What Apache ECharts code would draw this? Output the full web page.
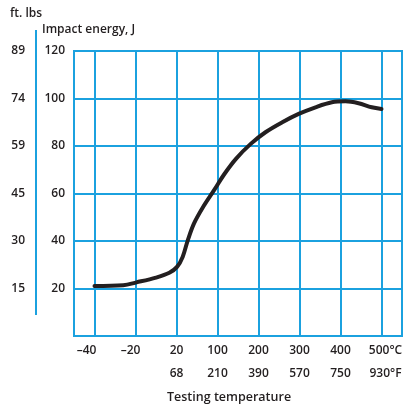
<!DOCTYPE html>
<html>
<head>
<meta charset="utf-8">
<script src="https://cdn.jsdelivr.net/npm/echarts@6/dist/echarts.min.js"></script>
<style>
  html, body { margin: 0; padding: 0; background: #fff; }
  #chart { width: 408px; height: 412px; }
</style>
</head>
<body>
<div id="chart"></div>
<script>
// Temperature axis: stops are evenly spaced, not linear in °C
const celsiusTicks = [-40, -20, 20, 100, 200, 300, 400, 500];
const celsiusLabels = ['–40', '–20', '20', '100', '200', '300', '400', '500°C'];
const fahrenheitLabels = ['', '', '68', '210', '390', '570', '750', '930°F'];

// Impact energy ticks (J) and the matching ft·lbs labels
const ftLbsAt = [20, 40, 60, 80, 100, 120];
const ftLbsLabels = ['15', '30', '45', '59', '74', '89'];

// Impact energy curve
const tempC = [-40, -26, -19, 0, 13, 21, 32, 42, 54, 71, 94, 116, 145, 181, 217, 258, 298, 339, 379, 412, 444, 476, 500];
const energyJ = [21.1, 21.4, 22.6, 24.6, 26.6, 29.1, 33.3, 40.3, 47.3, 54.0, 61.6, 68.0, 74.6, 80.9, 85.8, 90.0, 93.5, 96.3, 98.4, 98.8, 98.0, 96.3, 95.6];

const BLUE = '#1ba1df';
const INK = '#231f20';
const FONT = 'Open Sans';
const WEIGHT = 600;

// piecewise-linear placement of a temperature on the stop index scale
function tempToPos(t) {
  for (let i = 0; i < celsiusTicks.length - 1; i++) {
    const a = celsiusTicks[i], b = celsiusTicks[i + 1];
    if (t <= b || i === celsiusTicks.length - 2) {
      return i + (t - a) / (b - a);
    }
  }
  return 0;
}

const stopIndex = celsiusTicks.map((_, i) => i);
const curve = tempC.map((t, i) => [tempToPos(t), energyJ[i]]);

const textBase = { fontFamily: FONT, fontSize: 12, fontWeight: WEIGHT, color: INK };

const chart = echarts.init(document.getElementById('chart'), null, { renderer: 'canvas' });

chart.setOption({
  animation: false,
  textStyle: { fontFamily: FONT },
  grid: {
    left: 74, right: 6, top: 51, bottom: 76,
    show: true, borderColor: BLUE, borderWidth: 2, backgroundColor: 'transparent'
  },
  title: [
    { text: 'ft. lbs', left: 10, top: 8, padding: 0, textStyle: textBase },
    { text: 'Impact energy, J', left: 42, top: 24, padding: 0, textStyle: textBase },
    { text: 'Testing temperature', left: 167, top: 391, padding: 0, textStyle: Object.assign({}, textBase, { fontSize: 12.5 }) }
  ],
  graphic: [
    { type: 'line', shape: { x1: 36, y1: 30, x2: 36, y2: 315 }, style: { stroke: BLUE, lineWidth: 2 } }
  ],
  xAxis: {
    type: 'value',
    min: -0.5, max: 7.5,
    axisLine: { show: false },
    axisTick: { show: false, customValues: stopIndex },
    splitLine: { show: true, lineStyle: { color: BLUE, width: 2 } },
    axisLabel: {
      customValues: stopIndex,
      margin: 3,
      color: INK,
      fontFamily: FONT,
      fontSize: 12,
      fontWeight: WEIGHT,
      lineHeight: 23,
      formatter: function (v) {
        const i = Math.round(v);
        const c = celsiusLabels[i], f = fahrenheitLabels[i];
        if (i === 0) return '{c|' + c + '}{padL|}\n{c|}';
        if (i === 1) return '{c|' + c + '}{padS|}\n{c|}';
        if (i === 7) return '{padR|}{c|' + c + '}\n{padR|}{c|' + f + '}';
        return '{c|' + c + '}\n{c|' + f + '}';
      },
      rich: {
        c: { color: INK, fontFamily: FONT, fontSize: 12, fontWeight: WEIGHT, lineHeight: 23 },
        padL: { width: 16 },
        padS: { width: 10 },
        padR: { width: 8 }
      }
    }
  },
  yAxis: [
    {
      type: 'value',
      min: 0, max: 120, interval: 20,
      position: 'left',
      axisLine: { show: false },
      axisTick: { show: false },
      splitLine: { show: true, lineStyle: { color: BLUE, width: 2 } },
      axisLabel: {
        margin: 9, color: INK, fontFamily: FONT, fontSize: 12, fontWeight: WEIGHT,
        formatter: v => (v === 0 ? '' : String(v))
      }
    },
    {
      type: 'value',
      min: 0, max: 120, interval: 20,
      position: 'left',
      offset: 38,
      axisLine: { show: false },
      axisTick: { show: false },
      splitLine: { show: false },
      axisLabel: {
        margin: 11, color: INK, fontFamily: FONT, fontSize: 12, fontWeight: WEIGHT,
        formatter: v => {
          const k = ftLbsAt.indexOf(v);
          return k < 0 ? '' : ftLbsLabels[k];
        }
      }
    }
  ],
  series: [
    {
      type: 'line',
      xAxisIndex: 0,
      yAxisIndex: 0,
      data: curve,
      smooth: 0.35,
      symbol: 'none',
      lineStyle: { color: INK, width: 4, cap: 'round', join: 'round' },
      z: 5
    }
  ]
});
</script>
</body>
</html>
